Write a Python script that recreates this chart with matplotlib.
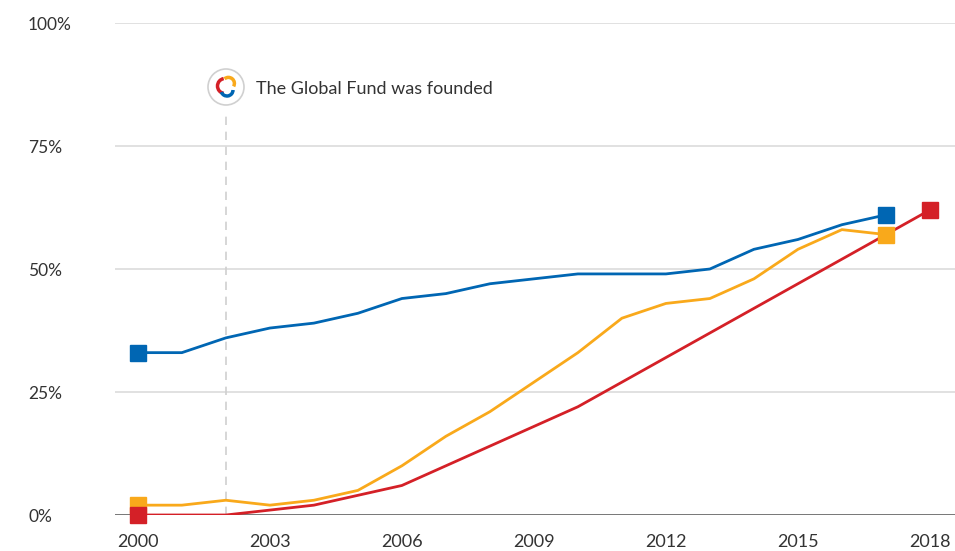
import numpy as np
import matplotlib.pyplot as plt
from matplotlib.patches import Circle, Arc

years = list(range(2000, 2018))
years_red = list(range(2000, 2019))
blue = [33, 33, 36, 38, 39, 41, 44, 45, 47, 48, 49, 49, 49, 50, 54, 56, 59, 61]
orange = [2, 2, 3, 2, 3, 5, 10, 16, 21, 27, 33, 40, 43, 44, 48, 54, 58, 57]
red = [0, 0, 0, 1, 2, 4, 6, 10, 14, 18, 22, 27, 32, 37, 42, 47, 52, 57, 62]
xticks = [2000, 2003, 2006, 2009, 2012, 2015, 2018]
yticks = [0, 25, 50, 75, 100]
event_year = 2002
event_text = "The Global Fund was founded"

c_blue = "#0066b3"
c_orange = "#f9a91b"
c_red = "#d42027"
txt = "#333333"

plt.rcParams["font.family"] = ["Lato", "DejaVu Sans"]

fig = plt.figure(figsize=(9.55, 5.51), dpi=100)
fig.patch.set_facecolor("white")
ax = fig.add_axes([115 / 955, 36 / 551, 840 / 955, 492 / 551])
ax.set_xlim(1999.48, 2018.57)
ax.set_ylim(0, 100)

for y in yticks[1:]:
    ax.axhline(y, color="#dcdcdc", lw=1.2, zorder=0)
ax.axhline(0, color="#777777", lw=1.4, zorder=1)

ax.plot([event_year, event_year], [0, 82], color="#cfcfcf", lw=1.2,
        ls=(0, (5, 4)), zorder=1)

for xs, ys, c in [(years, blue, c_blue), (years, orange, c_orange),
                  (years_red, red, c_red)]:
    ax.plot(xs, ys, color=c, lw=2, zorder=3)
    ax.plot([xs[0], xs[-1]], [ys[0], ys[-1]], ls="none", marker="s",
            ms=11.5, color=c, zorder=4, clip_on=False)

for s in ax.spines.values():
    s.set_visible(False)
ax.set_xticks(xticks)
ax.set_xticklabels([str(x) for x in xticks], fontsize=13, color=txt)
ax.tick_params(axis="x", length=0, pad=14)
ax.set_yticks([])
for y in yticks:
    fig.text(28 / 955, (551 - (517 - y * 4.92)) / 551, f"{y}%", fontsize=12.5,
             color=txt, ha="left", va="center")

# annotation
ax.text(2002.68, 86.6, event_text, fontsize=13, color=txt, va="center",
        ha="left")

# logo
lax = fig.add_axes([(226 - 20) / 955, (551 - 87 - 20) / 551, 40 / 955, 40 / 551])
lax.set_xlim(-1, 1)
lax.set_ylim(-1, 1)
lax.set_aspect("equal")
lax.axis("off")
lax.add_patch(Circle((0, 0), 0.9, facecolor="white", edgecolor="#d0d0d0", lw=1.2))
lax.add_patch(Arc((-0.05, 0.05), 0.75, 0.75, theta1=100, theta2=260, color=c_red, lw=2.5))
lax.add_patch(Arc((0.12, 0.18), 0.6, 0.6, theta1=-30, theta2=130, color=c_orange, lw=2.5))
lax.add_patch(Arc((0.05, -0.15), 0.6, 0.6, theta1=200, theta2=360, color=c_blue, lw=2.5))

fig.savefig("out.png", dpi=100, facecolor="white")
